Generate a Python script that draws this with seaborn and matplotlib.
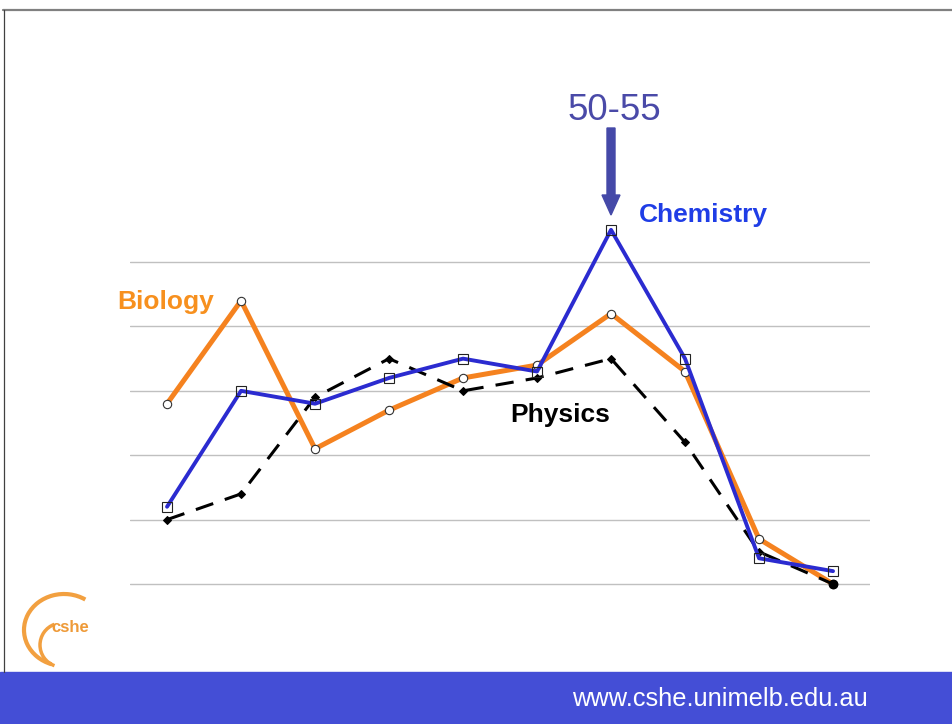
import numpy as np
import pandas as pd
import matplotlib.pyplot as plt
import seaborn as sns
from matplotlib.patches import Rectangle, Arc, FancyArrow

sns.set_style("white")
plt.rcParams["font.family"] = ["Liberation Sans", "DejaVu Sans"]

# values (grid spacing = 2 units, bottom grid = 0)
points = list(range(10))
biology = [5.6, 8.8, 4.2, 5.4, 6.4, 6.8, 8.4, 6.6, 1.4, 0.0]
chemistry = [2.4, 6.0, 5.6, 6.4, 7.0, 6.6, 11.0, 7.0, 0.8, 0.4]
physics = [2.0, 2.8, 5.8, 7.0, 6.0, 6.4, 7.0, 4.4, 1.0, 0.0]
grid_levels = [0, 2, 4, 6, 8, 10]

df = pd.DataFrame({"x": points, "Biology": biology,
                   "Chemistry": chemistry, "Physics": physics})

fig = plt.figure(figsize=(9.52, 7.24), dpi=100)

# slide decoration layer in pixel coordinates
deco = fig.add_axes([0, 0, 1, 1], zorder=0)
deco.set_xlim(0, 952)
deco.set_ylim(724, 0)
deco.axis("off")
deco.plot([3, 952], [9.5, 9.5], color="#808080", lw=1.6)
deco.plot([3.5, 3.5], [9.5, 672], color="#404040", lw=0.9)
deco.add_patch(Rectangle((0, 672), 952, 52, color="#444ed6"))
deco.text(719.5, 699, "www.cshe.unimelb.edu.au", color="white", fontsize=18.3,
          ha="center", va="center")

# cshe logo
deco.add_patch(Arc((64, 630), 80, 72, theta1=110, theta2=305,
                   color="#f2a040", lw=3))
deco.add_patch(Arc((62, 645), 44, 44, theta1=110, theta2=250,
                   color="#f2a040", lw=2.5))
deco.text(51, 628, "cshe", color="#ee9a38", fontsize=12, fontweight="bold",
          ha="left", va="center")

# main chart
ax = fig.add_axes([0.1366, 0.1711, 0.7773, 0.5559], zorder=1)
ax.patch.set_alpha(0)

sns.lineplot(data=df, x="x", y="Biology", ax=ax, color="#f5821f", lw=3.6,
             marker="o", markersize=6, markerfacecolor="white",
             markeredgecolor="#333333", markeredgewidth=0.8, clip_on=False)
sns.lineplot(data=df, x="x", y="Physics", ax=ax, color="black", lw=2.2,
             linestyle=(0, (6, 4)), marker="D", markersize=4,
             markerfacecolor="black", markeredgecolor="black", clip_on=False)
sns.lineplot(data=df, x="x", y="Chemistry", ax=ax, color="#2b2bd0", lw=2.8,
             marker="s", markersize=7, markerfacecolor="none",
             markeredgecolor="#222222", markeredgewidth=0.8, clip_on=False)
ax.plot(points[-1:], physics[-1:], "o", color="black", markersize=6,
        clip_on=False, zorder=5)

ax.set_xlim(-0.5, 9.5)
ax.set_ylim(-0.5, 12)
ax.set_yticks(grid_levels)
ax.set_xticks([])
ax.set_yticklabels([])
ax.tick_params(length=0)
ax.set_xlabel("")
ax.set_ylabel("")
ax.grid(axis="y", color="#c0c0c0", lw=1)
ax.set_axisbelow(True)
sns.despine(ax=ax, left=True, bottom=True)

# labels and annotation
deco.text(166, 302, "Biology", color="#f7901e", fontsize=19,
          fontweight="bold", ha="center", va="center")
deco.text(703, 215, "Chemistry", color="#1f3de6", fontsize=19,
          fontweight="bold", ha="center", va="center")
deco.text(560, 415, "Physics", color="black", fontsize=19,
          fontweight="bold", ha="center", va="center")
deco.text(614, 110, "50-55", color="#4a4aa8", fontsize=26.5,
          ha="center", va="center")
deco.add_patch(FancyArrow(611, 128, 0, 87, width=8, head_width=18,
                          head_length=20, length_includes_head=True,
                          color="#4549a8"))

fig.savefig("out.png", dpi=100)
